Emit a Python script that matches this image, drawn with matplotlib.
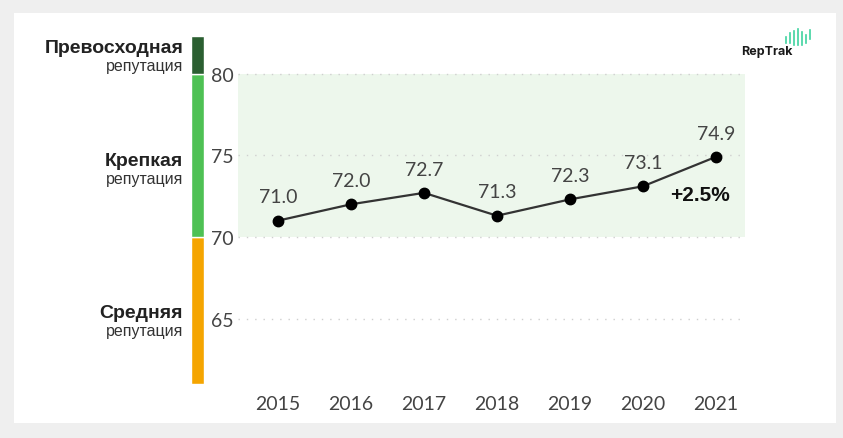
import matplotlib.pyplot as plt
from matplotlib.patches import Rectangle
from matplotlib.lines import Line2D

# Data
years = [2015, 2016, 2017, 2018, 2019, 2020, 2021]
scores = [71.0, 72.0, 72.7, 71.3, 72.3, 73.1, 74.9]
y_ticks = [65, 70, 75, 80]
change_label = "+2.5%"

# reputation bands: (bottom, top, colour, bold title, subtitle, label y)
bands = [
    (61.0, 70.0, "#f5a500", "Средняя", "репутация", 65.4),
    (70.0, 80.0, "#4ec154", "Крепкая", "репутация", 74.7),
    (80.0, 82.3, "#2b5f31", "Превосходная", "репутация", 81.6),
]

W, H = 843, 439
fig = plt.figure(figsize=(W / 100, H / 100), dpi=100, facecolor="#efefef")

# white card
fig.add_artist(Rectangle((14 / W, 1 - 424 / H), 822 / W, 410 / H,
                         transform=fig.transFigure, facecolor="white",
                         edgecolor="none", zorder=0))

ylim = (61.0, 82.3)
ax_bottom = (H - 385) / H
ax_height = (385 - 37) / H

ax = fig.add_axes([238 / W, ax_bottom, 507 / W, ax_height])
ax.set_facecolor("none")
ax.set_ylim(*ylim)
ax.set_xlim(2014.45, 2021.4)

ax.axhspan(70, 80, color="#edf7ec", zorder=0, lw=0)
for t in y_ticks:
    ax.axhline(t, color="#cfcfcf", lw=1, ls=(0, (1, 5)), zorder=1)

ax.plot(years, scores, color="#333333", lw=1.6, marker="o",
        markersize=7.5, markerfacecolor="black", markeredgecolor="black",
        zorder=3)

tick_font = "Lato"
for x, y in zip(years, scores):
    ax.annotate(f"{y:.1f}", (x, y), xytext=(0, 11), textcoords="offset points",
                ha="center", va="bottom", fontsize=14, color="#444444",
                family=tick_font)

ax.annotate(change_label, (years[-1], scores[-1]), xytext=(10, -27),
            textcoords="offset points", ha="right", va="center",
            fontsize=15, fontweight="bold", color="#111111",
            family="Liberation Sans")

ax.set_yticks(y_ticks)
ax.set_xticks(years)
ax.tick_params(axis="both", length=0, labelsize=14, labelcolor="#444444")
ax.tick_params(axis="y", pad=3)
ax.tick_params(axis="x", pad=8)
for lab in ax.get_xticklabels() + ax.get_yticklabels():
    lab.set_family(tick_font)
for s in ax.spines.values():
    s.set_visible(False)

# colour band on the left
bax = fig.add_axes([191 / W, ax_bottom, 13 / W, ax_height])
bax.set_ylim(*ylim)
bax.set_xlim(0, 1)
bax.axis("off")
for lo, hi, col, title, sub, ly in bands:
    bax.bar(0.5, hi - lo, bottom=lo, width=1, color=col,
            edgecolor="white", linewidth=1)
    bax.text(-0.6, ly, title, ha="right", va="center", fontsize=14,
             fontweight="bold", color="#222222", family="Liberation Sans")
    bax.text(-0.6, ly - 1.12, sub, ha="right", va="center", fontsize=11.5,
             color="#333333", family="Liberation Sans")

# RepTrak logo
fig.text(767 / W, 1 - 52 / H, "RepTrak", ha="center", va="center",
         fontsize=9, fontweight="bold", color="#1a1a1a", family="Inter")
logo_bars = [(786, 44, 38), (790, 44, 34), (794, 46, 32), (798, 46, 30),
             (802, 46, 33), (806, 44, 36), (810, 40, 31)]
for bx, y0, y1 in logo_bars:
    fig.add_artist(Line2D([bx / W, bx / W], [1 - y0 / H, 1 - y1 / H],
                          transform=fig.transFigure, color="#3fd3a0", lw=1.2))

fig.savefig("out.png", dpi=100, facecolor=fig.get_facecolor())
